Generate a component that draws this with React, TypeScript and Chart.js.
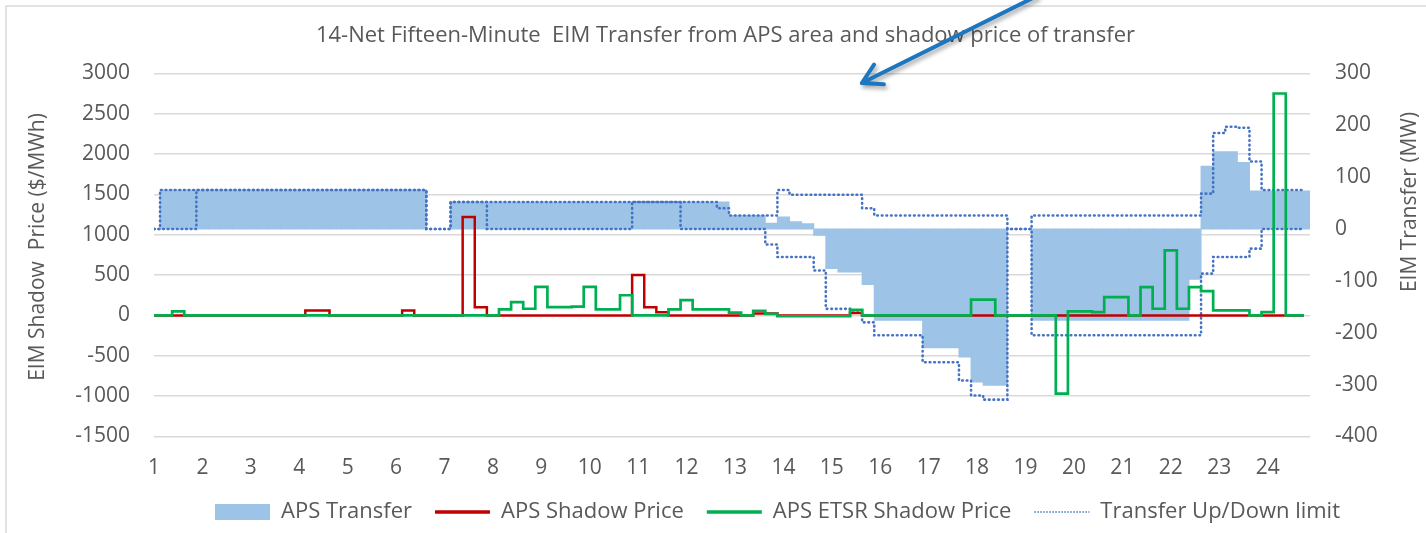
import React, { useEffect, useRef } from 'react';
import { Chart, registerables } from 'chart.js';

Chart.register(...registerables);

const WIDTH = 1426;
const HEIGHT = 533;
const FONT = '"Open Sans", Lato, sans-serif';
const TEXT_GREY = '#595959';
const TICK_FONT_SIZE = 21;
const TEXT_FONT_SIZE = 22;

const BLUE_FILL = '#9DC3E6';
const RED = '#C00000';
const GREEN = '#00B050';
const LIMIT_BLUE = '#4472C4';

const chartTitle = '14-Net Fifteen-Minute  EIM Transfer from APS area and shadow price of transfer';
const leftAxisTitle = 'EIM Shadow  Price ($/MWh)';
const rightAxisTitle = 'EIM Transfer (MW)';

// Hour labels on the x axis (each hour holds four 15-minute intervals)
const hourLabels = ['1', '2', '3', '4', '5', '6', '7', '8', '9', '10', '11', '12',
  '13', '14', '15', '16', '17', '18', '19', '20', '21', '22', '23', '24'];
const intervalsPerHour = 4;

// Axis ranges
const priceAxis = { min: -1500, max: 3000, step: 500 };
const transferAxis = { min: -400, max: 300, step: 100 };
const hourAxis = { min: 1, max: 24.875 };

// APS Transfer (MW), 96 fifteen-minute intervals (4 values per hour)
const transferMW = [
  0, 75, 75, 75,
  75, 75, 75, 75,
  75, 75, 75, 75,
  75, 75, 75, 75,
  75, 75, 75, 75,
  75, 75, 75, 0,
  0, 52, 52, 52,
  52, 52, 52, 52,
  52, 52, 52, 52,
  52, 52, 52, 52,
  52, 52, 52, 52,
  52, 52, 52, 52,
  26, 26, 26, 11,
  23, 14, 10, -12,
  -76, -83, -83, -107,
  -176, -176, -176, -176,
  -229, -229, -229, -247,
  -295, -301, -301, 0,
  0, -176, -176, -176,
  -176, -176, -176, -176,
  -176, -176, -176, -176,
  -176, -176, -97, 121,
  149, 149, 128, 73,
  73, 73, 73, 73,
];

// Transfer up limit (MW)
const transferUpLimitMW = [
  0, 75, 75, 75,
  75, 75, 75, 75,
  75, 75, 75, 75,
  75, 75, 75, 75,
  75, 75, 75, 75,
  75, 75, 75, 0,
  0, 52, 52, 52,
  52, 52, 52, 52,
  52, 52, 52, 52,
  52, 52, 52, 52,
  52, 52, 52, 52,
  52, 52, 52, 40,
  26, 26, 26, 26,
  75, 66, 66, 66,
  66, 66, 66, 40,
  26, 26, 26, 26,
  26, 26, 26, 26,
  26, 26, 26, 0,
  0, 26, 26, 26,
  26, 26, 26, 26,
  26, 26, 26, 26,
  26, 26, 26, 68,
  185, 197, 195, 130,
  75, 75, 75, 75,
];

// Transfer down limit (MW)
const transferDownLimitMW = [
  0, 0, 0, 0,
  75, 75, 75, 75,
  75, 75, 75, 75,
  75, 75, 75, 75,
  75, 75, 75, 75,
  75, 75, 75, 0,
  0, 52, 52, 52,
  0, 0, 0, 0,
  0, 0, 0, 0,
  0, 0, 0, 0,
  52, 52, 52, 52,
  0, 0, 0, 0,
  0, 0, 0, -30,
  -54, -54, -54, -80,
  -154, -154, -157, -180,
  -205, -205, -205, -205,
  -257, -257, -257, -292,
  -321, -329, -329, 0,
  0, -205, -205, -205,
  -205, -205, -205, -205,
  -205, -205, -205, -205,
  -205, -205, -205, -86,
  -54, -54, -54, -38,
  0, 0, 0, 0,
];

// APS Shadow Price ($/MWh)
const apsShadowPrice = [
  0, 0, 0, 0,
  0, 0, 0, 0,
  0, 0, 0, 0,
  0, 60, 60, 0,
  0, 0, 0, 0,
  0, 60, 0, 0,
  0, 0, 1220, 100,
  0, 0, 0, 0,
  0, 0, 0, 0,
  0, 0, 0, 0,
  500, 100, 40, 0,
  0, 0, 0, 0,
  0, 0, 25, 25,
  0, 0, 0, 0,
  0, 0, 30, 0,
  0, 0, 0, 0,
  0, 0, 0, 0,
  0, 0, 0, 0,
  0, 0, 0, 0,
  0, 0, 0, 0,
  0, 0, 0, 0,
  0, 0, 0, 0,
  0, 0, 0, 0,
  0, 0, 0, 0,
];

// APS ETSR Shadow Price ($/MWh)
const apsEtsrShadowPrice = [
  0, 0, 50, 0,
  0, 0, 0, 0,
  0, 0, 0, 0,
  0, 0, 0, 0,
  0, 0, 0, 0,
  0, 0, 0, 0,
  0, 0, 0, 0,
  0, 75, 165, 83,
  355, 103, 103, 110,
  355, 75, 75, 250,
  0, 0, 0, 75,
  190, 75, 75, 75,
  35, 0, 58, 20,
  -10, -10, -10, -10,
  -10, -10, 70, 0,
  0, 0, 0, 0,
  0, 0, 0, 0,
  197, 197, 0, 0,
  0, 0, 0, -970,
  50, 50, 40, 227,
  227, 0, 351, 83,
  806, 83, 351, 300,
  62, 62, 62, 0,
  41, 2750, 0, 0,
];

// Annotation arrow (tip in data units, direction of shaft in screen units)
const arrowNote = { tipHour: 15.62, tipPrice: 2880, dirX: 171, dirY: -85, color: '#1C76C0' };

const toPoints = (values: number[]) =>
  values.map((v, i) => ({ x: hourAxis.min + i / intervalsPerHour, y: v }));

const legendEntries = [
  { text: 'APS Transfer', kind: 'box', color: BLUE_FILL, width: 0, dash: [] as number[] },
  { text: 'APS Shadow Price', kind: 'line', color: RED, width: 3.5, dash: [] as number[] },
  { text: 'APS ETSR Shadow Price', kind: 'line', color: GREEN, width: 3.5, dash: [] as number[] },
  { text: 'Transfer Up/Down limit', kind: 'line', color: LIMIT_BLUE, width: 1.5, dash: [1.5, 1.5] },
];
const LEGEND_START_X = 215;

const decorPlugin = {
  id: 'decor',
  afterLayout(chart: any) {
    const lg = chart.legend;
    if (!lg || !lg.lineWidths) return;
    const pad = lg.options.labels.padding;
    const start = (lg.left + pad + lg.right - lg.lineWidths[0]) / 2;
    const d = LEGEND_START_X - start;
    lg.left += d;
    lg.right += d;
  },
  beforeDraw(chart: any) {
    const { ctx, width, height } = chart;
    ctx.save();
    ctx.fillStyle = '#ffffff';
    ctx.fillRect(0, 0, width, height);
    ctx.strokeStyle = '#d9d9d9';
    ctx.lineWidth = 1.5;
    ctx.beginPath();
    ctx.moveTo(6, height);
    ctx.lineTo(6, 6);
    ctx.lineTo(width, 6);
    ctx.stroke();
    ctx.restore();
  },
  afterDraw(chart: any) {
    const { ctx } = chart;
    ctx.save();
    ctx.fillStyle = TEXT_GREY;
    ctx.font = `${TICK_FONT_SIZE}px ${FONT}`;
    ctx.textAlign = 'center';
    ctx.textBaseline = 'middle';
    ctx.save();
    ctx.translate(38, 247);
    ctx.rotate(-Math.PI / 2);
    ctx.fillText(leftAxisTitle, 0, 0);
    ctx.restore();
    ctx.save();
    ctx.translate(1410, 202);
    ctx.rotate(-Math.PI / 2);
    ctx.fillText(rightAxisTitle, 0, 0);
    ctx.restore();

    // annotation arrow
    const tipX = chart.scales.x.getPixelForValue(arrowNote.tipHour);
    const tipY = chart.scales.yPrice.getPixelForValue(arrowNote.tipPrice);
    const len = Math.hypot(arrowNote.dirX, arrowNote.dirY);
    const ux = arrowNote.dirX / len;
    const uy = arrowNote.dirY / len;
    const t = (tipY + 4) / -uy;
    const tailX = tipX + ux * t;
    const tailY = tipY + uy * t;
    const ang = Math.atan2(uy, ux);
    const arm = 22;
    const spread = (30 * Math.PI) / 180;
    ctx.strokeStyle = arrowNote.color;
    ctx.lineWidth = 4;
    ctx.lineCap = 'round';
    ctx.lineJoin = 'round';
    ctx.shadowColor = 'rgba(0,0,0,0.35)';
    ctx.shadowBlur = 4;
    ctx.shadowOffsetX = 2;
    ctx.shadowOffsetY = 3;
    ctx.beginPath();
    ctx.moveTo(tailX, tailY);
    ctx.lineTo(tipX, tipY);
    ctx.moveTo(tipX + Math.cos(ang - spread) * arm, tipY + Math.sin(ang - spread) * arm);
    ctx.lineTo(tipX, tipY);
    ctx.lineTo(tipX + Math.cos(ang + spread) * arm, tipY + Math.sin(ang + spread) * arm);
    ctx.stroke();
    ctx.restore();
  },
};

export default function App() {
  const canvasRef = useRef<HTMLCanvasElement | null>(null);

  useEffect(() => {
    if (!canvasRef.current) return;
    const tickFont = { family: FONT, size: TICK_FONT_SIZE };
    const limitStyle = {
      type: 'line',
      yAxisID: 'yMW',
      borderColor: LIMIT_BLUE,
      borderWidth: 2.6,
      borderDash: [0.6, 4],
      borderCapStyle: 'round',
      stepped: 'middle',
      pointRadius: 0,
      fill: false,
    };
    const chart = new Chart(canvasRef.current, {
      type: 'line',
      data: {
        datasets: [
          {
            type: 'bar',
            label: 'APS Transfer',
            data: toPoints(transferMW),
            yAxisID: 'yMW',
            backgroundColor: (c: any) => (c.raw && c.raw.y === 0 ? 'rgba(0,0,0,0)' : BLUE_FILL),
            borderWidth: 0,
            barPercentage: 1,
            categoryPercentage: 1,
            inflateAmount: 0.5,
            order: 5,
          } as any,
          {
            type: 'line',
            label: 'APS Shadow Price',
            data: toPoints(apsShadowPrice),
            yAxisID: 'yPrice',
            borderColor: RED,
            borderWidth: 2.5,
            stepped: 'middle',
            pointRadius: 0,
            fill: false,
            order: 1,
          },
          {
            type: 'line',
            label: 'APS ETSR Shadow Price',
            data: toPoints(apsEtsrShadowPrice),
            yAxisID: 'yPrice',
            borderColor: GREEN,
            borderWidth: 2.7,
            stepped: 'middle',
            pointRadius: 0,
            fill: false,
            order: 0,
          },
          {
            ...limitStyle,
            label: 'Transfer Up/Down limit',
            data: toPoints(transferUpLimitMW),
            order: 2,
          },
          {
            ...limitStyle,
            label: 'Transfer Down limit',
            data: toPoints(transferDownLimitMW),
            order: 3,
          },
        ],
      },
      options: {
        responsive: false,
        animation: false,
        events: [],
        layout: { padding: { top: 0, left: 25, right: 0, bottom: 0 } },
        scales: {
          x: {
            type: 'linear',
            min: hourAxis.min,
            max: hourAxis.max,
            offset: false,
            grid: { display: false, drawTicks: false },
            border: { display: false },
            ticks: {
              font: tickFont,
              color: TEXT_GREY,
              padding: 18.9,
              autoSkip: false,
              maxRotation: 0,
              callback: (v: any) => hourLabels[Math.round(Number(v)) - 1] ?? '',
            },
            afterBuildTicks: (s: any) => {
              s.ticks = hourLabels.map((_, k) => ({ value: hourAxis.min + k }));
            },
            afterFit: (s: any) => {
              s.height = 41.5;
            },
          },
          yPrice: {
            type: 'linear',
            position: 'left',
            min: priceAxis.min,
            max: priceAxis.max,
            grid: { color: '#d9d9d9', lineWidth: 1.5, drawTicks: false },
            border: { display: false },
            ticks: {
              stepSize: priceAxis.step,
              font: tickFont,
              color: TEXT_GREY,
              padding: 24,
              callback: (v: any) => String(v),
            },
            afterFit: (s: any) => {
              s.width = 129;
            },
          },
          yMW: {
            type: 'linear',
            position: 'right',
            min: transferAxis.min,
            max: transferAxis.max,
            grid: { display: false, drawTicks: false },
            border: { display: false },
            ticks: {
              stepSize: transferAxis.step,
              font: tickFont,
              color: TEXT_GREY,
              padding: 25,
              callback: (v: any) => String(v),
            },
            afterFit: (s: any) => {
              s.width = 116;
            },
          },
        },
        plugins: {
          tooltip: { enabled: false },
          title: {
            display: true,
            text: chartTitle,
            color: TEXT_GREY,
            font: { family: FONT, size: TEXT_FONT_SIZE, weight: 'normal' },
            padding: { top: 22.8, bottom: 24.1 },
          },
          legend: {
            display: true,
            position: 'bottom',
            align: 'center',
            labels: {
              usePointStyle: true,
              pointStyleWidth: 55,
              boxHeight: 16,
              padding: 23,
              color: TEXT_GREY,
              font: { family: FONT, size: TEXT_FONT_SIZE },
              generateLabels: () =>
                legendEntries.map((e, i) => ({
                  text: e.text,
                  datasetIndex: i,
                  fillStyle: e.kind === 'box' ? e.color : 'rgba(0,0,0,0)',
                  strokeStyle: e.color,
                  lineWidth: e.width,
                  lineDash: e.dash,
                  pointStyle: e.kind === 'box' ? 'rect' : 'line',
                  hidden: false,
                  fontColor: TEXT_GREY,
                })),
            },
          },
        },
      },
      plugins: [decorPlugin],
    } as any);
    return () => chart.destroy();
  }, []);

  return (
    <div style={{ position: 'absolute', left: 0, top: 0, width: WIDTH, height: HEIGHT, background: '#fff' }}>
      <canvas ref={canvasRef} width={WIDTH} height={HEIGHT} style={{ display: 'block' }} />
    </div>
  );
}
